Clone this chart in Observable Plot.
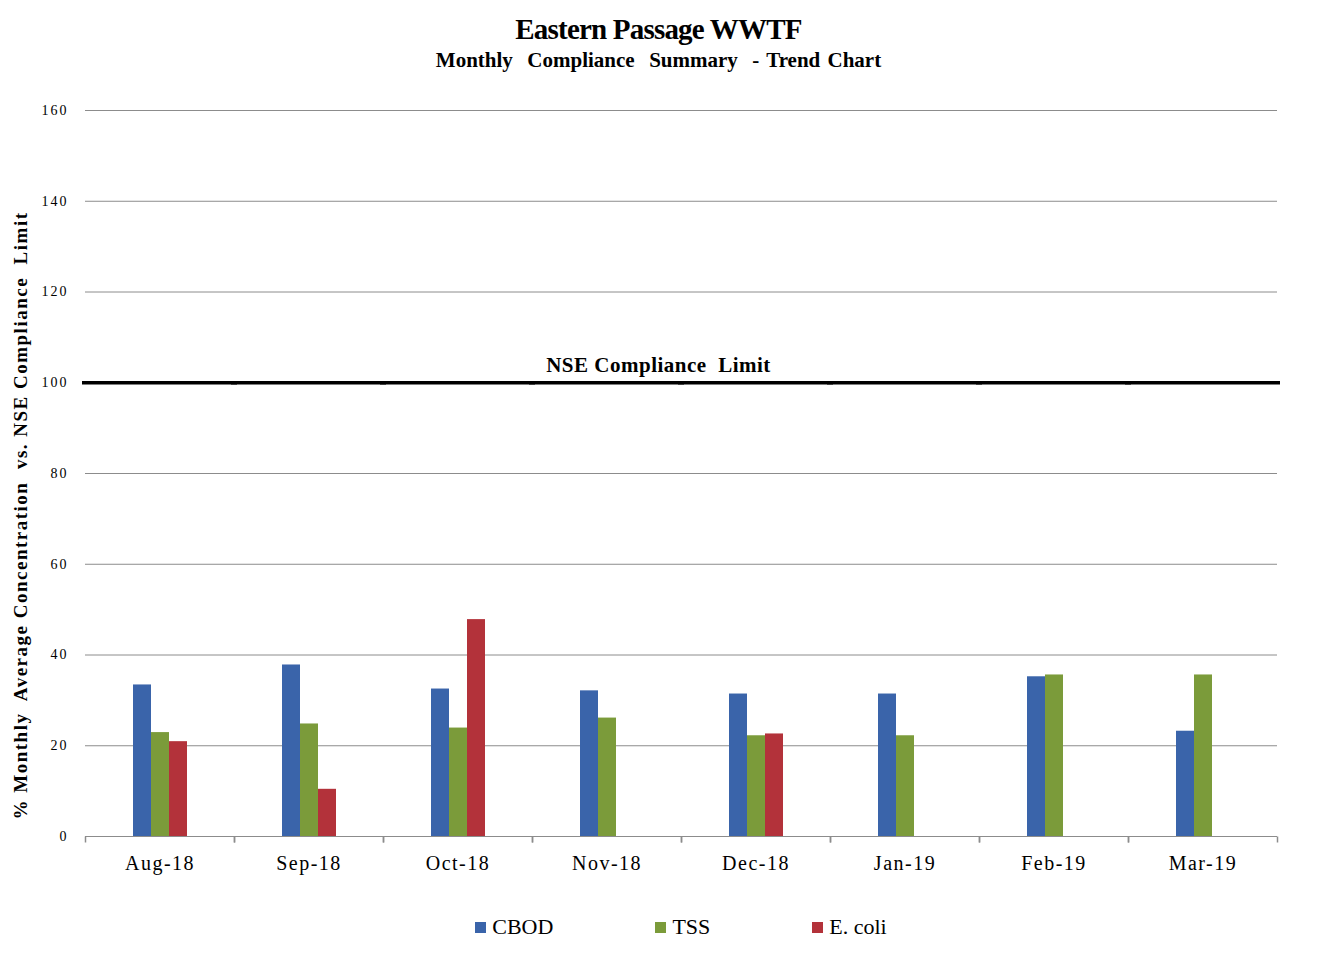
<!DOCTYPE html>
<html><head><meta charset="utf-8">
<script src="https://cdn.jsdelivr.net/npm/d3@7"></script>
<script src="https://cdn.jsdelivr.net/npm/@observablehq/plot@0.6"></script>
<style>
body{margin:0;background:#fff;font-family:"Liberation Serif",serif;color:#000;}
#wrap{width:1317px;}
h1{margin:14px 0 0;font-size:29px;line-height:31px;text-align:center;font-weight:bold;letter-spacing:-0.8px;}
h2{margin:3px 0 0;font-size:21px;line-height:24px;text-align:center;font-weight:bold;white-space:pre;word-spacing:2px;}
#chart{margin-top:8px;height:806px}
#chart svg{display:block}
#legend{display:flex;justify-content:center;gap:102px;padding-left:45px;margin-top:28px;font-size:22px;line-height:26px}
.item{display:flex;align-items:center;gap:6px}
.sw{width:11px;height:11px;display:inline-block}
</style></head><body>
<div id="wrap">
<h1 id="title"></h1>
<h2 id="subtitle"></h2>
<div id="chart"></div>
<div id="legend"></div>
</div>
<script>
const titleText = "Eastern Passage WWTF";
const subtitleText = "Monthly  Compliance  Summary  - Trend Chart";
const yLabel = "% Monthly  Average Concentration  vs. NSE Compliance  Limit";
const nseLabel = "NSE Compliance  Limit";
const months = ["Aug-18","Sep-18","Oct-18","Nov-18","Dec-18","Jan-19","Feb-19","Mar-19"];
const series = ["CBOD","TSS","E. coli"];
const colors = ["#3A64AA","#7B9B3A","#B3323A"];
const cbod  = [33.4, 37.8, 32.5, 32.1, 31.4, 31.4, 35.2, 23.2];
const tss   = [22.9, 24.8, 23.9, 26.1, 22.2, 22.2, 35.6, 35.6];
const ecoli = [20.9, 10.4, 47.8, null, 22.6, null, null, null];
const yTicks = [0, 20, 40, 60, 80, 100, 120, 140, 160];
const limit = 100;

document.getElementById("title").textContent = titleText;
document.getElementById("subtitle").textContent = subtitleText;

const valuesBySeries = [cbod, tss, ecoli];
const table = months.flatMap((m, i) => series.map((s, j) => ({month: m, series: s, value: valuesBySeries[j][i]})))
  .filter(d => d.value != null);

const tickSym = {draw(ctx) { ctx.moveTo(0, 0); ctx.lineTo(0, 6); }};

const chart = Plot.plot({
  width: 1317, height: 806,
  marginLeft: 85, marginRight: 40, marginTop: 30, marginBottom: 50,
  style: {fontFamily: '"Liberation Serif", serif', fontSize: "14px", color: "#000", background: "#fff"},
  fx: {domain: months, padding: 0, label: null, tickSize: 0, tickPadding: 19, axis: "bottom"},
  x: {domain: series, paddingInner: 0, paddingOuter: 2.5, axis: null},
  y: {domain: [0, 160], ticks: yTicks, tickSize: 0, tickPadding: 17, label: null},
  color: {domain: series, range: colors},
  marks: [
    Plot.ruleY(yTicks.filter(t => t !== limit), {stroke: "#8c8c8c", strokeWidth: 1}),
    Plot.barY(table, {fx: "month", x: "series", y: "value", fill: "series"}),
    Plot.ruleY([limit], {stroke: "#000", strokeWidth: 3.5, insetLeft: -3, insetRight: -3}),
    Plot.dot([0], {frameAnchor: "bottom-left", symbol: tickSym, stroke: "#8c8c8c", fill: "none"}),
    Plot.dot([0], {frameAnchor: "bottom-right", symbol: tickSym, stroke: "#8c8c8c", fill: "none"}),
    Plot.text([nseLabel], {fx: () => months[3], y: () => limit, text: d => d, frameAnchor: "right", textAnchor: "middle", dx: -23, dy: -17, fontWeight: "bold", fontSize: 21}),
    Plot.text([yLabel], {fx: () => months[0], text: d => d, frameAnchor: "left", textAnchor: "middle", rotate: -90, dx: -65, dy: 42, fontWeight: "bold", fontSize: 19})
  ]
});

const svg = d3.select(chart.tagName.toLowerCase() === "svg" ? chart : chart.querySelector("svg"));
svg.selectAll('g[aria-label="y-axis tick label"]').attr("font-size", 14).attr("letter-spacing", 2);
svg.selectAll('g[aria-label="fx-axis tick label"]').attr("font-size", 20).attr("letter-spacing", 1.5);
svg.selectAll('g[aria-label="text"] text').style("white-space", "pre");
svg.selectAll('g[aria-label="text"] text').filter(function() { return this.textContent === yLabel; }).attr("letter-spacing", 1.5);
svg.selectAll('g[aria-label="text"] text').filter(function() { return this.textContent === nseLabel; }).attr("letter-spacing", 0.5);
document.getElementById("chart").appendChild(chart);

const legend = d3.select("#legend");
series.forEach((s, i) => {
  const it = legend.append("div").attr("class", "item");
  it.append("span").attr("class", "sw").style("background", colors[i]);
  it.append("span").text(s);
});
</script>
</body></html>
